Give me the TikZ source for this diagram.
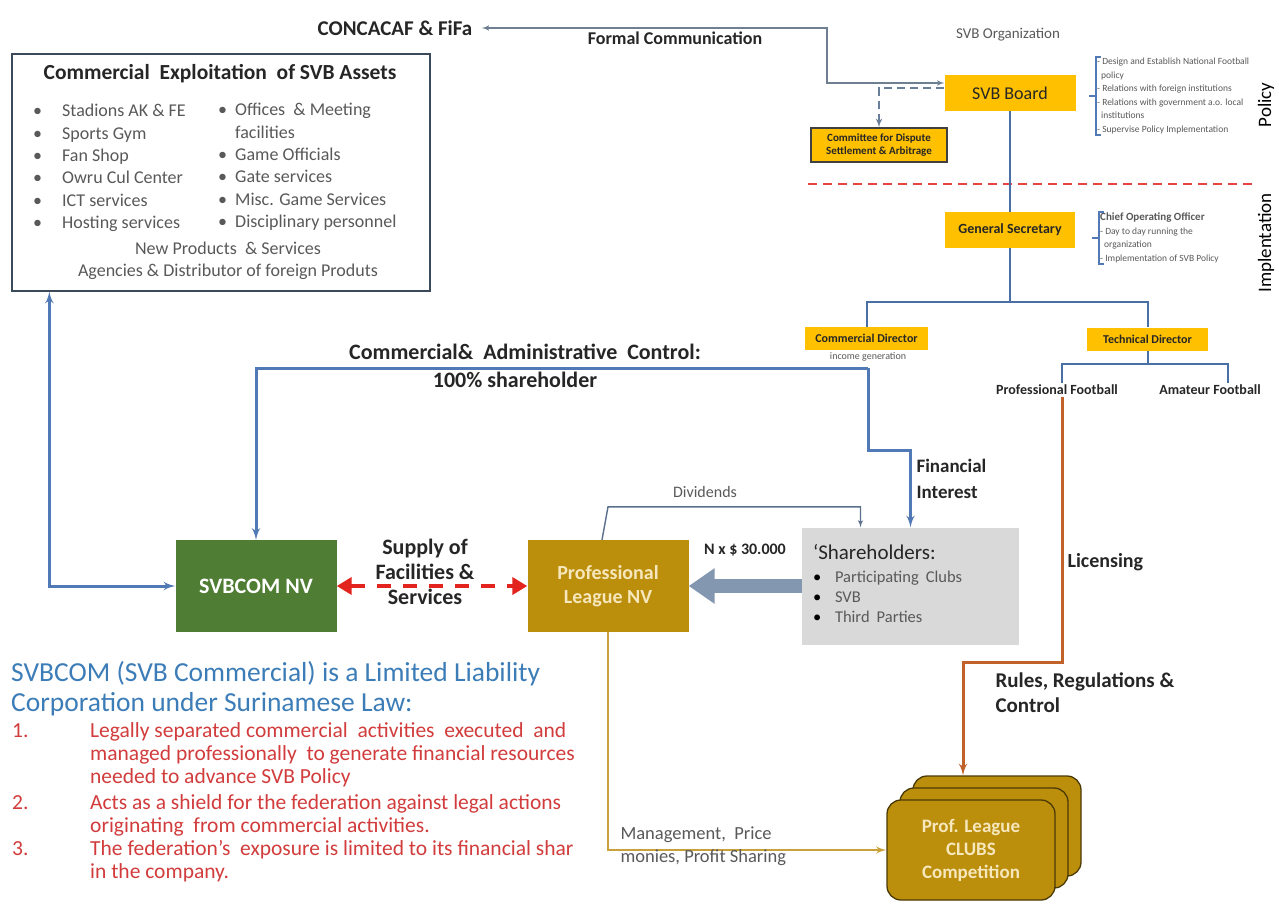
\documentclass[tikz,border=0pt]{standalone}
\usepackage{fontspec}
\setmainfont{Carlito}
\usetikzlibrary{arrows,arrows.meta,positioning,calc}
\definecolor{svbyellow}{HTML}{FFC000}
\definecolor{svbgreen}{HTML}{4F7D33}
\definecolor{leaguegold}{HTML}{BB8E0C}
\definecolor{clubedge}{HTML}{4A3A05}
\definecolor{clubtext}{HTML}{F6E7BC}
\definecolor{linkblue}{HTML}{5079B5}
\definecolor{orgblue}{HTML}{4A6FA5}
\definecolor{commgray}{HTML}{6F7F92}
\definecolor{divgray}{HTML}{5A6F8C}
\definecolor{licorange}{HTML}{C0622A}
\definecolor{mgmtgold}{HTML}{C9A13A}
\definecolor{supplyred}{HTML}{E3231E}
\definecolor{moneygray}{HTML}{8497B0}
\definecolor{holdergray}{HTML}{D9D9D9}
\definecolor{lawblue}{HTML}{3C7DB8}
\definecolor{lawred}{HTML}{D23C3C}
\definecolor{textdark}{HTML}{262626}
\definecolor{textgray}{HTML}{595959}
\definecolor{boxedge}{HTML}{3B4A5A}
\tikzset{
    orgbox/.style = {fill=svbyellow, text=textdark, inner sep=2pt},
    board/.style = {orgbox, minimum width=131pt, minimum height=36pt,
        font=\fontsize{18}{20}\selectfont},
    office/.style = {orgbox, minimum width=130pt, minimum height=36pt,
        font=\fontsize{14}{16}\selectfont\bfseries},
    director/.style = {orgbox, minimum height=23pt,
        font=\fontsize{12}{14}\selectfont\bfseries},
    dispute/.style = {orgbox, draw=black!75, line width=1.2pt, minimum width=136pt,
        minimum height=34pt, align=center, font=\fontsize{11}{13}\selectfont\bfseries},
    duties/.style = {anchor=west, align=left, inner sep=1pt, text=textgray,
        font=\fontsize{9.5}{13.5}\selectfont},
    dutybrace/.style = {draw=linkblue, line width=1.6pt},
    side/.style = {rotate=90, text=black, font=\fontsize{19}{21}\selectfont},
    entity/.style = {minimum width=161pt, minimum height=92pt, inner sep=2pt,
        align=center, font=\fontsize{20}{24}\selectfont\bfseries},
    club/.style = {draw=clubedge, line width=1.3pt, fill=leaguegold, rounded corners=14pt,
        minimum width=168pt, minimum height=100pt, align=center, text=clubtext,
        font=\fontsize{19}{23}\selectfont\bfseries},
    lbl/.style = {align=center, text=textdark, font=\fontsize{22}{25}\selectfont\bfseries},
    football/.style = {text=textdark, inner sep=2pt, font=\fontsize{14}{16}\selectfont\bfseries},
    note/.style = {text=textgray, font=\fontsize{10}{12}\selectfont},
    comm/.style = {draw=commgray, line width=1.5pt},
    org/.style = {draw=orgblue, line width=2pt},
    ctrl/.style = {draw=linkblue, line width=3pt},
    lic/.style = {draw=licorange, line width=3pt, ->},
    mgmt/.style = {draw=mgmtgold, line width=2.5pt, ->},
    supply/.style = {draw=supplyred, line width=4.5pt, dash pattern=on 14pt off 12pt,
        {Triangle[length=15pt,width=17pt]}-{Triangle[length=15pt,width=17pt]}},
    money/.style = {draw=moneygray, line width=14pt, -{Triangle[length=26pt,width=34pt]}},
    div/.style = {draw=divgray, line width=1.4pt, ->}
}

\begin{document}
\begin{tikzpicture}[x=1pt, y=-1pt, >=latex']
        \useasboundingbox[fill=white] (0,0) rectangle (1279,908);
        % policy level
        \node [board] (board) at (1010,93) {SVB Board};
        \node [note, font=\fontsize{15}{17}\selectfont] (orgname) at (1008,35) {SVB Organization};
        \node [lbl, font=\fontsize{21}{24}\selectfont\bfseries] (concacaf) at (395,28) {CONCACAF \& FiFa};
        \coordinate (commbend) at (827,83);
        \draw [comm,<->] ([xshift=6pt]concacaf.east) -| (commbend) -- (commbend -| board.west);
        \node [lbl, font=\fontsize{18}{20}\selectfont\bfseries] (formal) at (675,38) {Formal Communication};
        \node [dispute] (dispute) at (879,145) {Committee for Dispute\\Settlement \& Arbitrage};
        \draw [draw=commgray!80!linkblue, line width=2pt, dash pattern=on 8pt off 5pt, ->] ([yshift=5pt]board.west) -| (dispute.north);
        \node [duties] (policytext) at (1096,96) {- Design and Establish National Football\\
            \hspace*{4pt}policy\\- Relations with foreign institutions\\
            - Relations with government a.o. local\\\hspace*{4pt}institutions\\
            - Supervise Policy Implementation};
        \draw [dutybrace] ([xshift=5pt]policytext.north west) -- (policytext.north west)
            -- (policytext.south west) -- ++(5,0);
        \draw [dutybrace] (policytext.west) -- ++(-7,0);
        \node [side] (policy) at (1266,105) {Policy};
        \draw [draw=supplyred!85!white, line width=2.2pt, dash pattern=on 9pt off 6pt] (808,184) -- (1253,184);
        \node [side] (implement) at (1266,243) {Implentation};
        % implementation level
        \node [office] (gs) at (1010,230) {General Secretary};
        \draw [org] (board.south) -- (gs.north);
        \node [duties] (gstext) at (1099,238) {{\bfseries\fontsize{11}{13.5}\selectfont Chief Operating Officer}\\
            - Day to day running the\\\hspace*{4pt}organization\\- Implementation of SVB Policy};
        \draw [dutybrace] ([xshift=5pt]gstext.north west) -- (gstext.north west)
            -- (gstext.south west) -- ++(5,0);
        \draw [dutybrace] (gstext.west) -- ++(-7,0);
        \draw [org] (gs.south) -- ++(0,54) coordinate (fork);
        \node [director, minimum width=123pt] (cd) at (866.5,338.5) {Commercial Director};
        \node [note] (cdnote) at (868,357) {income generation};
        \node [director, minimum width=121pt] (td) at (1147.5,339) {Technical Director};
        \draw [org] (cd.north) |- (fork) -| (td.north);
        \draw [org] (td.south) -- ++(0,13) coordinate (tdfork);
        \node [football] (profFB) at (1057,390) {Professional Football};
        \node [football] (amaFB) at (1210,390) {Amateur Football};
        \draw [org] ([xshift=5pt]profFB.north) |- (tdfork) -| ([xshift=18pt]amaFB.north);
        % commercial exploitation
        \node [draw=boxedge, line width=1.3pt, minimum width=418pt, minimum height=237pt] (assets) at (221,172.5) {};
        \node [lbl, font=\fontsize{21.5}{24}\selectfont\bfseries] (assetstitle) at (220,74) {Commercial\ \ Exploitation\ \ of SVB Assets};
        \node [anchor=north west, inner sep=0pt, text=textgray, font=\fontsize{18}{22.3}\selectfont] (assetsleft) at (33,101)
            {\begin{tabular}{@{}p{29pt}@{}l@{}}
            • & Stadions AK \& FE\\ • & Sports Gym\\ • & Fan Shop\\
            • & Owru Cul Center\\ • & ICT services\\ • & Hosting services
            \end{tabular}};
        \node [anchor=north west, inner sep=0pt, text=textgray, font=\fontsize{18}{22.3}\selectfont] (assetsright) at (218,100)
            {\begin{tabular}{@{}p{17pt}@{}l@{}}
            • & Offices\ \ \& Meeting\\ & facilities\\ • & Game Officials\\
            • & Gate services\\ • & Misc. Game Services\\ • & Disciplinary personnel
            \end{tabular}};
        \node [align=center, text=textgray, font=\fontsize{18}{22}\selectfont] (assetsmore) at (228,261)
            {New Products\ \ \& Services\\Agencies \& Distributor of foreign Produts};
        % entities
        \node [entity, fill=svbgreen, text=white, font=\fontsize{22}{24}\selectfont\bfseries] (svbcom) at (256,586) {SVBCOM NV};
        \node [entity, fill=leaguegold, text=clubtext] (league) at (608,586) {Professional\\League NV};
        \node [fill=holdergray, minimum width=217pt, minimum height=117pt, text width=195pt, align=left,
            text=textdark, font=\fontsize{21}{23}\selectfont] (holders) at (910.5,586)
            {`Shareholders:\\{\fontsize{16.5}{20}\selectfont\color{textgray}%
            \begin{tabular}[t]{@{}p{22pt}@{}l@{}}
            \textcolor{black}{•} & Participating Clubs\\ \textcolor{black}{•} & SVB\\ \textcolor{black}{•} & Third Parties
            \end{tabular}}};
        \draw [ctrl,<->] (svbcom.west) -| ([xshift=38pt]assets.south west);
        \coordinate (ctrlsrc) at (868,368);
        \draw [ctrl,->] (ctrlsrc) -| (svbcom.north);
        \draw [ctrl,->] (ctrlsrc) -- ++(0,82) -| (holders.north);
        \node [lbl] (ctrltext) at (525,352) {Commercial\&\ \ Administrative\ \ Control:};
        \node [lbl] (sharetext) at (515,380) {100\% shareholder};
        \node [lbl, anchor=west, font=\fontsize{19}{26}\selectfont\bfseries, align=left] (fininterest) at (913,479) {Financial\\Interest};
        \draw [supply] (svbcom.east) -- (league.west);
        \node [lbl] (supplytext) at (425,572) {Supply of\\Facilities \&\\Services};
        \draw [money] (holders.west) -- (league.east);
        \node [lbl, font=\fontsize{16}{18}\selectfont\bfseries] (ntimes) at (745,550) {N x \$ 30.000};
        \draw [div] ([xshift=-6pt]league.north) -- ++(6,-33) -| ([xshift=-50pt]holders.north);
        \node [note, font=\fontsize{16}{18}\selectfont] (dividends) at (705,492) {Dividends};
        % clubs
        \node [club] (clubsB) at (997,826) {};
        \node [club] (clubsM) at (984,838) {};
        \node [club] (clubsF) at (971,850) {Prof. League\\CLUBS\\Competition};
        \coordinate (licbend) at (963,662);
        \draw [lic] ([xshift=5pt]profFB.south) |- (licbend) -- (licbend |- clubsB.north);
        \node [lbl, anchor=west, font=\fontsize{20}{24}\selectfont\bfseries] (licensing) at (1064,562) {Licensing};
        \node [lbl, anchor=west, align=left, font=\fontsize{21}{25}\selectfont\bfseries] (rules) at (992,693) {Rules, Regulations \&\\Control};
        \draw [mgmt] (league.south) |- (clubsF.west);
        \node [note, anchor=west, align=left, font=\fontsize{18.5}{23}\selectfont] (mgmttext) at (617,846) {Management,\ \ Price\\monies, Profit Sharing};
        % legal note
        \node [anchor=north west, align=left, inner sep=0pt, text=lawblue, font=\fontsize{27.5}{30}\selectfont] (lawtext) at (11,661)
            {SVBCOM (SVB Commercial) is a Limited Liability\\Corporation under Surinamese Law:};
        \node [anchor=north west, inner sep=0pt, text=lawred, font=\fontsize{21.5}{23}\selectfont] (lawlist) at (12,721)
            {\begin{tabular}{@{}p{78pt}@{}l@{}}
            1. & Legally separated commercial\ \ activities\ \ executed\ \ and\\
               & managed professionally\ \ to generate financial resources\\
               & needed to advance SVB Policy\\[3pt]
            2. & Acts as a shield for the federation against legal actions\\
               & originating\ \ from commercial activities.\\
            3. & The federation’s\ \ exposure is limited to its financial shar\\
               & in the company.
            \end{tabular}};
\end{tikzpicture}
\end{document}
